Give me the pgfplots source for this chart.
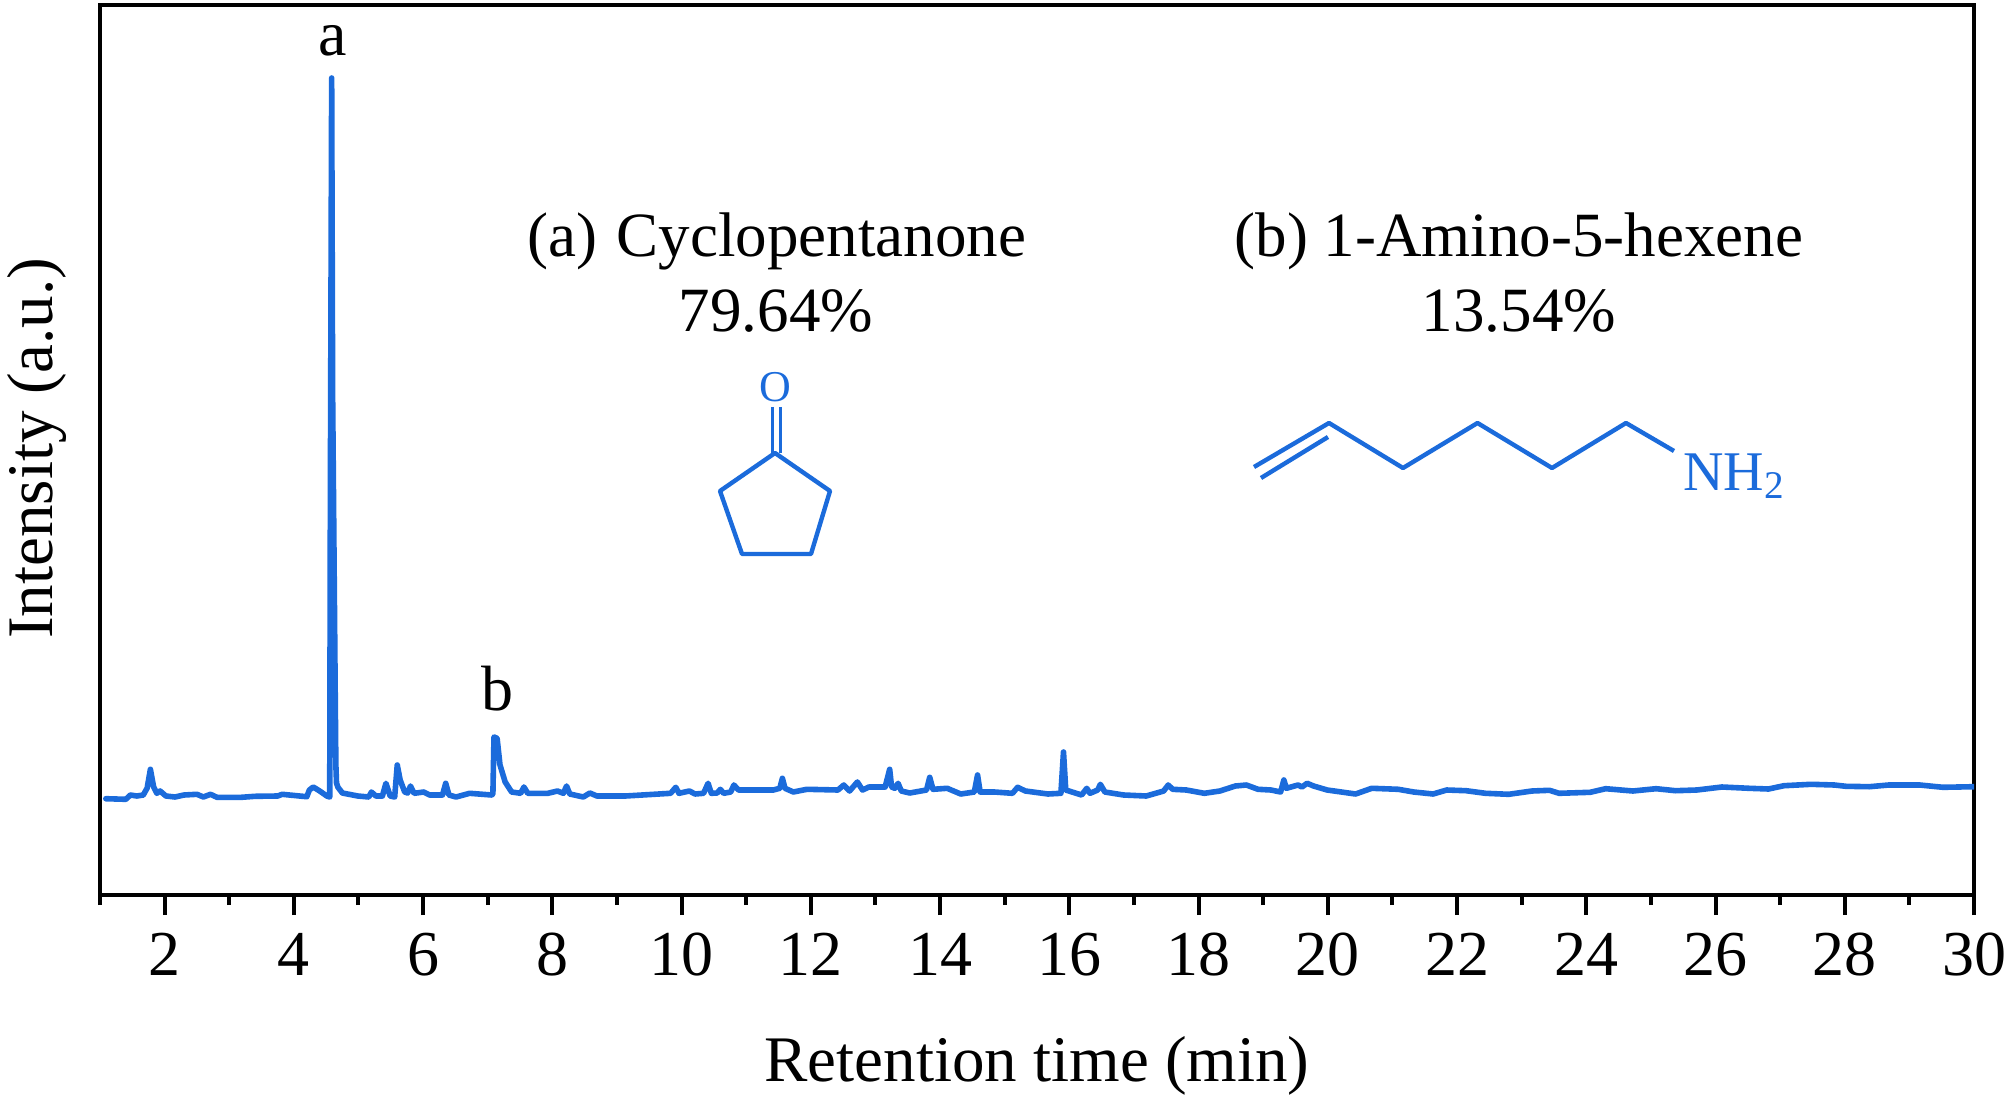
\documentclass[border=0pt]{standalone}
\usepackage{fontspec}
\setmainfont{Liberation Serif}
\usepackage{pgfplots}
\pgfplotsset{compat=1.18}
\definecolor{trace}{HTML}{1B6BDB}
% y values are heights above the bottom axis line, in reference pixels
\begin{document}
\begin{tikzpicture}[x=0.5pt,y=0.5pt]
% page frame: 2008 x 1099 pixels, origin at the axis corner (100,895)
\path[use as bounding box] (-100,-204) rectangle (1908,895);
\begin{axis}[
    at={(0,0)}, anchor=south west,
    scale only axis,
    width=937pt, height=445pt,
    xmin=1, xmax=30, ymin=0, ymax=890,
    axis line style={line width=2pt},
    xtick={2,4,...,30},
    minor xtick={1,3,...,29},
    ytick=\empty,
    xtick pos=lower,
    tick align=outside,
    major tick length=10pt,
    minor tick length=5pt,
    every tick/.style={line width=2pt,black},
    minor tick style={line width=2pt,black},
    xticklabel style={font=\fontsize{32}{32}\selectfont,anchor=base,yshift=-30pt},
    /pgf/number format/assume math mode=true,
    xlabel={Retention time (min)},
    ylabel={Intensity (a.u.)},
    every axis x label/.style={at={(axis description cs:0.5,0)},anchor=base,yshift=-93pt,font=\fontsize{32.5}{32.5}\selectfont},
    every axis y label/.style={at={([xshift=-23.5pt]axis description cs:0,0.502)},anchor=base,rotate=90,font=\fontsize{32.5}{32.5}\selectfont},
]
\addplot[color=trace,line width=2.8pt,line join=round,line cap=round,no markers] coordinates {
(1.09,96.3)(1.40,95.7)(1.47,100)(1.57,99)(1.67,100)(1.73,107)(1.78,125.7)(1.83,108)(1.88,101.7)(1.93,104)
(2.02,99)(2.16,98)(2.30,100)(2.50,100.7)(2.60,98)(2.71,100.7)(2.81,97.7)(3.19,97.7)(3.40,98.7)(3.75,99)
(3.82,100.7)(4.20,98.3)(4.24,105)(4.30,108)(4.40,104)(4.51,99)(4.555,98)(4.565,400)(4.585,817)(4.60,500)
(4.62,350)(4.64,200)(4.65,130)(4.66,112)(4.68,108)(4.75,102)(4.99,99)(5.16,98)(5.20,103)(5.27,99)
(5.37,99)(5.425,111.7)(5.49,99)(5.56,98)(5.60,130)(5.645,115)(5.715,103)(5.76,102)(5.805,109)(5.86,101.7)
(6.01,103)(6.10,100)(6.30,100)(6.35,111.7)(6.40,100)(6.51,98)(6.72,101.7)(7.06,100)(7.08,101)(7.097,158)
(7.145,156.7)(7.19,130)(7.27,113)(7.37,103)(7.51,101.7)(7.56,108)(7.62,101.7)(7.93,101.7)(8.08,104)(8.17,101.7)
(8.22,109)(8.27,101)(8.48,98)(8.58,102)(8.69,99)(9.13,99)(9.83,101.7)(9.91,107.7)(9.96,101.7)(10.12,104)
(10.21,101)(10.34,101.7)(10.41,111.7)(10.46,101.7)(10.55,102)(10.60,105.7)(10.65,101.7)(10.76,103)(10.81,110)(10.88,105)
(11.42,105)(11.52,106.7)(11.56,116.7)(11.60,106.7)(11.73,103)(11.94,105.7)(12.42,105)(12.51,110)(12.60,104)(12.72,113)
(12.80,105)(12.90,108)(13.15,108)(13.22,125.7)(13.25,108)(13.30,106.7)(13.35,111.7)(13.40,104)(13.53,102)(13.79,105)
(13.84,117.7)(13.89,105.7)(14.11,106.7)(14.32,101)(14.53,103)(14.58,120)(14.62,103)(14.84,103)(15.12,101.7)(15.20,107.7)
(15.32,104)(15.67,101)(15.87,101.7)(15.91,143)(15.945,105)(16.19,100)(16.27,106.7)(16.32,101.7)(16.44,105)(16.48,110.7)
(16.55,103)(16.84,100)(17.19,99)(17.46,104)(17.53,110)(17.60,105.7)(17.81,105)(18.09,101.7)(18.33,104)(18.57,109)
(18.74,110)(18.92,105.7)(19.12,105)(19.27,103)(19.32,115)(19.36,106.7)(19.43,108)(19.54,110)(19.60,108)(19.68,111.7)
(19.78,109)(19.99,105)(20.43,101)(20.68,106.7)(21.09,105.7)(21.33,103)(21.63,101)(21.84,105)(22.14,104.3)(22.44,101.7)
(22.80,100.7)(23.16,104)(23.43,104.7)(23.58,101.7)(24.06,102.7)(24.30,106.3)(24.72,104)(25.08,106.3)(25.38,104.3)(25.71,105)
(26.10,108)(26.52,106.7)(26.82,106)(27.06,109.3)(27.48,110.7)(27.84,110)(28.02,108.7)(28.38,108.3)(28.68,110)(29.16,110)
(29.52,107.7)(30,108.3)
};
\end{axis}
\begin{scope}[shift={(-100,895)},y=-0.5pt,every node/.append style={anchor=base}]
  \node[font=\fontsize{32}{32}\selectfont] at (333,56) {a};
  \node[font=\fontsize{32}{32}\selectfont] at (497,710) {b};
  \node[font=\fontsize{31.5}{31.5}\selectfont] at (777,257) {(a)\hspace{0.3em}Cyclopentanone};
  \node[font=\fontsize{31.5}{31.5}\selectfont] at (776,332) {79.64\%};
  \node[font=\fontsize{31.5}{31.5}\selectfont] at (1519,257) {(b) 1-Amino-5-hexene};
  \node[font=\fontsize{31.5}{31.5}\selectfont] at (1519,332) {13.54\%};
  \begin{scope}[color=trace,line width=2.2pt,line join=round]
    \node[text=trace,font=\fontsize{22}{22}\selectfont,inner sep=0pt,anchor=center] at (775,387) {O};
    \draw[line width=1.5pt] (772,407) -- (772,453) (780,407) -- (780,453);
    \draw (775,453) -- (830,491) -- (811,554) -- (742,554) -- (720,491) -- cycle;
    \draw (1254,467) -- (1329,423) -- (1403,468) -- (1477.5,423) -- (1552,468) -- (1626,423) -- (1674,451);
    \draw (1261,478) -- (1328,437);
    \node[text=trace,anchor=base west,inner sep=0pt,font=\fontsize{28}{28}\selectfont] at (1681,490) {NH\textsubscript{2}};
  \end{scope}
\end{scope}
\end{tikzpicture}
\end{document}
